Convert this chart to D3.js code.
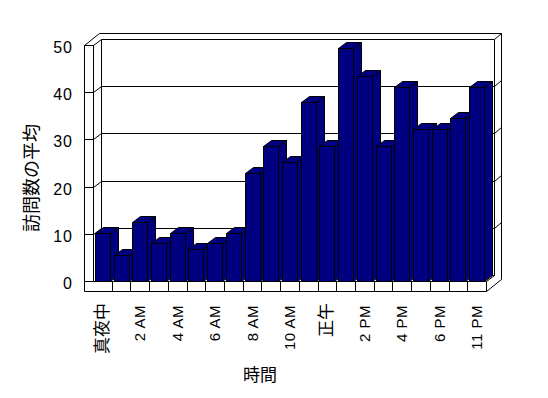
<!DOCTYPE html>
<html><head><meta charset="utf-8">
<script src="https://cdn.jsdelivr.net/npm/d3@7"></script>
<style>
html,body{margin:0;padding:0;background:#fff;}
svg{display:block;}
text{font-family:"Liberation Sans","Noto Sans CJK JP",sans-serif;fill:#000;}
</style></head>
<body>
<script>
const categories = ["真夜中","1 AM","2 AM","3 AM","4 AM","5 AM","6 AM","7 AM","8 AM","9 AM","10 AM","11 AM",
  "正午","1 PM","2 PM","3 PM","4 PM","5 PM","6 PM","7 PM","11 PM"];
const visits = [10.2, 5.6, 12.6, 8.0, 10.2, 6.8, 8.0, 10.2, 22.9, 28.7, 25.3, 38.0,
  28.7, 49.3, 43.5, 28.7, 41.2, 32.2, 32.2, 34.5, 41.2];
const shownLabels = ["真夜中","2 AM","4 AM","6 AM","8 AM","10 AM","正午","2 PM","4 PM","6 PM","11 PM"];
const yTicks = [0,10,20,30,40,50];
const yTitle = "訪問数の平均";
const xTitle = "時間";

const W = 548, H = 398;
const svg = d3.select("body").append("svg").attr("width", W).attr("height", H);

const xL = 84.5, x0 = 93.5, x1 = 486.5, yBase = 281.5, floorBottom = 291.5;
const D = [8, -6], B = [7, -6];

const x = d3.scaleBand().domain(categories).range([x0, x1]).paddingInner(0.2).paddingOuter(0.1);
const y = d3.scaleLinear().domain([0, 50]).range([yBase, 45.5]);
const step = x.step();
const yTopV = y(50);

const g = svg.append("g").attr("fill", "none").attr("stroke", "#000").attr("stroke-width", 1);
const line = (ax, ay, bx, by) => g.append("line").attr("x1", ax).attr("y1", ay).attr("x2", bx).attr("y2", by);
const cy = v => Math.round(y(v) - 0.5) + 0.5;

// gridlines on walls
yTicks.forEach(v => {
  const yy = cy(v);
  line(xL, yy, x0, yy);
  if (v > 0 && v < 50) {
    line(x0, yy, x0 + D[0], yy + D[1]);
    line(x0 + D[0], yy + D[1], x1 + D[0], yy + D[1]);
    line(x1 + D[0], yy + D[1], x1 + D[0] + B[0], yy + D[1] + B[1]);
  }
  if (v === 0) line(x0 + D[0], yy + D[1], x1 + D[0], yy + D[1]);
});

// wall outlines
line(xL, yTopV, xL, floorBottom);
line(x0, yTopV, x0, yBase);
g.append("path").attr("d", d3.line()([
  [xL, yTopV], [xL + D[0] + B[0], yTopV + D[1] + B[1]], [x1 + D[0] + B[0], yTopV + D[1] + B[1]],
  [x1 + D[0], yTopV + D[1]], [x0 + D[0], yTopV + D[1]], [x0, yTopV]
]) + "Z");
line(x0 + D[0], yTopV + D[1], x0 + D[0], yBase + D[1]);
line(x1 + D[0], yTopV + D[1], x1 + D[0], yBase + D[1]);
line(x1 + D[0] + B[0], yTopV + D[1] + B[1], x1 + D[0] + B[0], floorBottom + D[1] + B[1]);

// floor
line(x0, yBase, x1, yBase);
line(xL, floorBottom, x1, floorBottom);
line(x1, yBase, x1, floorBottom);
line(x1, yBase, x1 + D[0], yBase + D[1]);
line(x1, floorBottom, x1 + D[0] + B[0], floorBottom + D[1] + B[1]);
categories.forEach((c, i) => {
  if (i === 0) return;
  const xx = Math.round(x0 + i * step - 0.5) + 0.5;
  line(xx, yBase, xx, floorBottom);
});

// bars
const bars = svg.append("g").attr("fill", "#000080").attr("stroke", "#000").attr("stroke-width", 1).attr("stroke-linejoin", "miter");
categories.forEach((c, i) => {
  const xl = Math.round(x(c) - 0.5) + 0.5;
  const xr = Math.round(x(c) + x.bandwidth() - 0.5) + 0.5;
  const yv = cy(visits[i]);
  bars.append("path").attr("d", d3.line()([[xr, yv], [xr + D[0], yv + D[1]], [xr + D[0], yBase + D[1]], [xr, yBase]]) + "Z");
  bars.append("path").attr("d", d3.line()([[xl, yv], [xl + D[0], yv + D[1]], [xr + D[0], yv + D[1]], [xr, yv]]) + "Z");
  bars.append("rect").attr("x", xl).attr("y", yv).attr("width", xr - xl).attr("height", yBase - yv);
});

// y tick labels
svg.append("g").selectAll("text").data(yTicks).join("text")
  .attr("x", 73).attr("y", d => y(d) + 2)
  .attr("text-anchor", "end").attr("dominant-baseline", "central")
  .attr("font-size", 16).attr("letter-spacing", 1).text(d => d);

// x labels
const isCJK = s => /[\u3000-\u9fff]/.test(s);
svg.append("g").selectAll("text").data(shownLabels).join("text")
  .attr("transform", d => `translate(${x(d) + x.bandwidth() / 2 - 0.5},${isCJK(d) ? 303 : 305}) rotate(-90)`)
  .attr("text-anchor", "end").attr("dominant-baseline", "central")
  .attr("font-size", d => isCJK(d) ? 17 : 15)
  .attr("letter-spacing", d => isCJK(d) ? 0 : 0.5).text(d => d);

// titles
svg.append("text").attr("transform", "translate(32,178) rotate(-90)")
  .attr("text-anchor", "middle").attr("dominant-baseline", "central")
  .attr("font-size", 18).text(yTitle);
svg.append("text").attr("x", 260).attr("y", 375)
  .attr("text-anchor", "middle").attr("dominant-baseline", "central")
  .attr("font-size", 17).text(xTitle);
</script>
</body></html>
